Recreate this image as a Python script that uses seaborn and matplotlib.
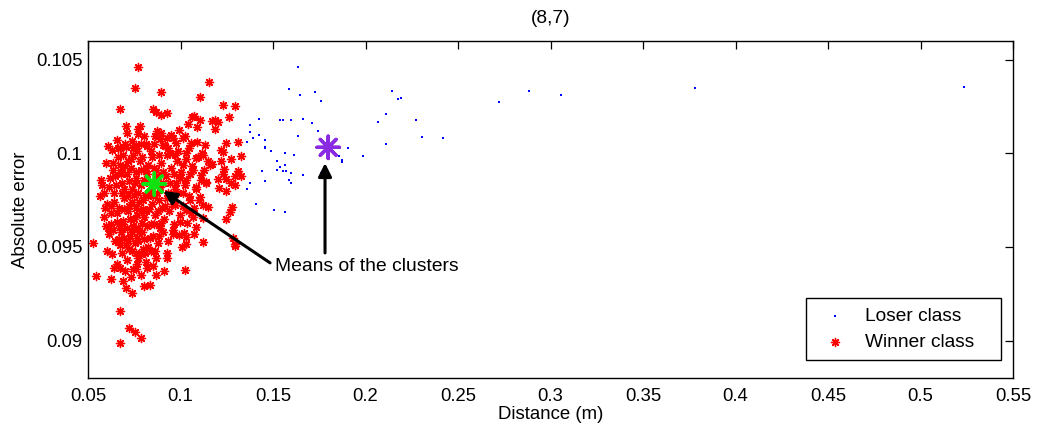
import matplotlib
matplotlib.use("Agg")
import matplotlib.pyplot as plt
import seaborn as sns
import pandas as pd

# ---------------- data ----------------
title = "(8,7)"
x_label = "Distance (m)"
y_label = "Absolute error"
x_ticks = [0.05, 0.1, 0.15, 0.2, 0.25, 0.3, 0.35, 0.4, 0.45, 0.5, 0.55]
x_tick_labels = ["0.05", "0.1", "0.15", "0.2", "0.25", "0.3", "0.35", "0.4", "0.45", "0.5", "0.55"]
y_ticks = [0.09, 0.095, 0.1, 0.105]
y_tick_labels = ["0.09", "0.095", "0.1", "0.105"]
x_limits = (0.05, 0.55)
y_limits = (0.0880, 0.1060)

class_names = ["Loser class", "Winner class"]

loser_points = [
    (0.1634, 0.10459), (0.1585, 0.10345), (0.1648, 0.10313), (0.1729, 0.10326),
    (0.1760, 0.10279), (0.1425, 0.10181), (0.1537, 0.10179), (0.1553, 0.10179),
    (0.1599, 0.10176), (0.1664, 0.10181), (0.1713, 0.10160), (0.1745, 0.10121),
    (0.1376, 0.10149), (0.1376, 0.10112), (0.1425, 0.10096), (0.1393, 0.10082),
    (0.1360, 0.10059), (0.1456, 0.10069), (0.1634, 0.10094), (0.1456, 0.10034),
    (0.1456, 0.10027), (0.1488, 0.10011), (0.1567, 0.10002), (0.1616, 0.09993),
    (0.1760, 0.10027), (0.1906, 0.10028), (0.1857, 0.09984), (0.1873, 0.09964),
    (0.1873, 0.09952), (0.1521, 0.09959), (0.1567, 0.09939), (0.1537, 0.09928),
    (0.1521, 0.09911), (0.1553, 0.09907), (0.1569, 0.09907), (0.1441, 0.09907),
    (0.1599, 0.09893), (0.1664, 0.09884), (0.1760, 0.09893), (0.1585, 0.09859),
    (0.1599, 0.09840), (0.1456, 0.09854), (0.1376, 0.09840), (0.1360, 0.09811),
    (0.1409, 0.09729), (0.1504, 0.09699), (0.1567, 0.09685), (0.2145, 0.10331),
    (0.2177, 0.10288), (0.2193, 0.10297), (0.2112, 0.10211), (0.2066, 0.10165),
    (0.2274, 0.10176), (0.2307, 0.10085), (0.2419, 0.10082), (0.2112, 0.10050),
    (0.1985, 0.09986), (0.2723, 0.10274), (0.2883, 0.10332), (0.3057, 0.10309),
    (0.3779, 0.10350), (0.5236, 0.10352),
]

winner_points = [
    # sparse upper part
    (0.0768, 0.10459), (0.0752, 0.10350), (0.0897, 0.10329), (0.1153, 0.10382),
    (0.1105, 0.10302), (0.1231, 0.10259), (0.1295, 0.10252), (0.0671, 0.10238),
    (0.0849, 0.10235), (0.0865, 0.10219), (0.0897, 0.10206), (0.0927, 0.10217),
    (0.1263, 0.10194), (0.1063, 0.10194), (0.1072, 0.10197), (0.1103, 0.10176),
    (0.1040, 0.10156), (0.1170, 0.10172), (0.1189, 0.10176), (0.1204, 0.10169),
    (0.1089, 0.10140), (0.1184, 0.10128), (0.0703, 0.10144), (0.0782, 0.10146),
    (0.0768, 0.10130), (0.0768, 0.10101), (0.0993, 0.10123), (0.1024, 0.10091),
    (0.0896, 0.10107), (0.0863, 0.10092), (0.0887, 0.10076), (0.0927, 0.10080),
    (0.0959, 0.10080), (0.1058, 0.10057), (0.1313, 0.10062), (0.1248, 0.10053),
    (0.1132, 0.10044), (0.0608, 0.10041), (0.0671, 0.10028), (0.0703, 0.10035),
    (0.0735, 0.10066), (0.0761, 0.10044), (0.0788, 0.10048), (0.0815, 0.10051),
    (0.0905, 0.10044), (0.0932, 0.10027), (0.0973, 0.10053), (0.1220, 0.10018),
    (0.1232, 0.10009),
    # right flank and left edge
    (0.0576, 0.09832), (0.0671, 0.09938), (0.0676, 0.09888), (0.1328, 0.09986),
    (0.1272, 0.09970), (0.1220, 0.09961), (0.1160, 0.09938), (0.1171, 0.09943),
    (0.1312, 0.09906), (0.1295, 0.09879), (0.1326, 0.09879), (0.1236, 0.09915),
    (0.1232, 0.09890), (0.1247, 0.09861), (0.1202, 0.09861), (0.1207, 0.09813),
    (0.1247, 0.09797), (0.1279, 0.09715), (0.1268, 0.09688), (0.1248, 0.09651),
    (0.1295, 0.09832), (0.1275, 0.09840), (0.1150, 0.09715), (0.1121, 0.09724),
    (0.0592, 0.09707), (0.0624, 0.09719), (0.0610, 0.09600), (0.0657, 0.09635),
    (0.0665, 0.09544), (0.0671, 0.09509), (0.0527, 0.09521), (0.0991, 0.09562),
    (0.1018, 0.09573), (0.1072, 0.09568), (0.1121, 0.09528), (0.1283, 0.09546),
    (0.1295, 0.09514),
    # lower tail
    (0.0545, 0.09347), (0.0624, 0.09328), (0.0640, 0.09386), (0.0671, 0.09386),
    (0.0687, 0.09319), (0.0705, 0.09280), (0.0735, 0.09253), (0.0800, 0.09290),
    (0.0833, 0.09299), (0.0865, 0.09352), (0.0910, 0.09370), (0.1024, 0.09377),
    (0.0928, 0.09466), (0.0928, 0.09443), (0.1009, 0.09498), (0.1031, 0.09516),
    (0.0671, 0.09160), (0.0719, 0.09066), (0.0754, 0.09048), (0.0784, 0.09016),
    (0.0671, 0.08989), (0.1297, 0.09505),
    # medium-density right part of the cloud
    (0.0968, 0.09991), (0.1031, 0.10000), (0.1085, 0.09973), (0.1121, 0.09991),
    (0.1013, 0.09938), (0.1067, 0.09911), (0.1112, 0.09884), (0.1031, 0.09858),
    (0.0977, 0.09840), (0.1085, 0.09822), (0.1139, 0.09848), (0.1013, 0.09787),
    (0.1049, 0.09751), (0.1103, 0.09768), (0.0968, 0.09724), (0.1031, 0.09697),
    (0.1067, 0.09662), (0.0995, 0.09635), (0.1121, 0.09653), (0.0959, 0.09591),
    (0.1031, 0.09555), (0.1085, 0.09608),
    # dense core
    (0.0655, 0.1007), (0.0712, 0.1011), (0.0745, 0.1003), (0.0801, 0.1009),
    (0.0838, 0.1001), (0.0873, 0.1012), (0.0915, 0.1004), (0.0948, 0.1010),
    (0.0987, 0.1001), (0.1012, 0.1008), (0.1046, 0.1003), (0.1088, 0.1006),
    (0.1117, 0.1000), (0.0627, 0.1002), (0.0689, 0.0999),
    (0.0598, 0.0995), (0.0633, 0.0991), (0.0664, 0.0998), (0.0702, 0.0993),
    (0.0731, 0.0997), (0.0758, 0.0990), (0.0779, 0.0996), (0.0812, 0.0992),
    (0.0845, 0.0998), (0.0869, 0.0991), (0.0897, 0.0995), (0.0928, 0.0999),
    (0.0951, 0.0992), (0.0979, 0.0996), (0.1003, 0.0990), (0.1031, 0.0997),
    (0.1064, 0.0993), (0.1097, 0.0998), (0.1126, 0.0991), (0.1150, 0.0996),
    (0.0743, 0.0999), (0.0826, 0.0994),
    (0.0571, 0.0986), (0.0612, 0.0982), (0.0647, 0.0988), (0.0681, 0.0984),
    (0.0709, 0.0989), (0.0736, 0.0981), (0.0761, 0.0987), (0.0789, 0.0983),
    (0.0817, 0.0989), (0.0841, 0.0980), (0.0866, 0.0986), (0.0889, 0.0982),
    (0.0919, 0.0988), (0.0943, 0.0984), (0.0971, 0.0981), (0.0996, 0.0987),
    (0.1025, 0.0983), (0.1053, 0.0989), (0.1082, 0.0981), (0.1109, 0.0986),
    (0.1138, 0.0984), (0.0724, 0.0985), (0.0803, 0.0986), (0.0877, 0.0988),
    (0.0566, 0.0977), (0.0604, 0.0973), (0.0638, 0.0979), (0.0669, 0.0971),
    (0.0697, 0.0976), (0.0721, 0.0972), (0.0748, 0.0978), (0.0774, 0.0974),
    (0.0796, 0.0970), (0.0822, 0.0977), (0.0848, 0.0973), (0.0871, 0.0979),
    (0.0899, 0.0971), (0.0926, 0.0976), (0.0957, 0.0973), (0.0985, 0.0979),
    (0.1016, 0.0972), (0.1044, 0.0977), (0.1071, 0.0971), (0.1102, 0.0975),
    (0.0683, 0.0979), (0.0759, 0.0971), (0.0834, 0.0979),
    (0.0589, 0.0966), (0.0626, 0.0962), (0.0655, 0.0968), (0.0688, 0.0964),
    (0.0714, 0.0969), (0.0741, 0.0961), (0.0766, 0.0967), (0.0791, 0.0963),
    (0.0815, 0.0969), (0.0839, 0.0962), (0.0862, 0.0967), (0.0888, 0.0960),
    (0.0913, 0.0965), (0.0938, 0.0969), (0.0966, 0.0962), (0.0998, 0.0967),
    (0.1033, 0.0963), (0.1059, 0.0968), (0.0729, 0.0965), (0.0805, 0.0966),
    (0.0616, 0.0957), (0.0648, 0.0953), (0.0677, 0.0958), (0.0703, 0.0951),
    (0.0727, 0.0956), (0.0752, 0.0952), (0.0778, 0.0958), (0.0801, 0.0954),
    (0.0826, 0.0950), (0.0852, 0.0956), (0.0878, 0.0952), (0.0903, 0.0958),
    (0.0934, 0.0953), (0.0961, 0.0957), (0.0693, 0.0955), (0.0764, 0.0955),
    (0.0684, 0.0947), (0.0712, 0.0943), (0.0738, 0.0948), (0.0763, 0.0941),
    (0.0787, 0.0946), (0.0813, 0.0942), (0.0841, 0.0948), (0.0869, 0.0944),
    (0.0722, 0.0949), (0.0796, 0.0949),
    (0.0701, 0.0937), (0.0732, 0.0934), (0.0758, 0.0938), (0.0784, 0.0935),
    (0.0617, 0.0987), (0.0652, 0.0983), (0.0676, 0.0990), (0.0694, 0.0981),
    (0.0717, 0.0978), (0.0733, 0.0992), (0.0752, 0.0984), (0.0770, 0.0979),
    (0.0785, 0.0991), (0.0808, 0.0978), (0.0829, 0.0984), (0.0853, 0.0977),
    (0.0858, 0.0992), (0.0881, 0.0975), (0.0906, 0.0984), (0.0933, 0.0979),
    (0.0622, 0.0968), (0.0641, 0.0974), (0.0672, 0.0961), (0.0695, 0.0970),
    (0.0708, 0.0960), (0.0735, 0.0974), (0.0747, 0.0965), (0.0771, 0.0960),
    (0.0784, 0.0969), (0.0799, 0.0975), (0.0818, 0.0961), (0.0831, 0.0970),
    (0.0857, 0.0962), (0.0876, 0.0969), (0.0894, 0.0963), (0.0918, 0.0972),
    (0.0636, 0.0959), (0.0662, 0.0953), (0.0681, 0.0962), (0.0715, 0.0953),
    (0.0739, 0.0958), (0.0757, 0.0947), (0.0772, 0.0953), (0.0793, 0.0958),
    (0.0809, 0.0947), (0.0833, 0.0955), (0.0861, 0.0948), (0.0884, 0.0956),
    (0.0637, 0.0995), (0.0661, 0.1003), (0.0698, 0.1005), (0.0718, 0.0996),
    (0.0766, 0.1001), (0.0792, 0.0998), (0.0819, 0.1004), (0.0856, 0.1005),
    (0.0883, 0.0999), (0.0907, 0.0990), (0.0942, 0.1000), (0.0963, 0.0989),
    (0.0588, 0.0979), (0.0595, 0.0961), (0.0603, 0.0948), (0.0628, 0.0946),
    (0.0657, 0.0941), (0.0745, 0.0938), (0.0772, 0.0944), (0.0821, 0.0939),
    (0.0851, 0.0940),
]

winner_mean = (0.0858, 0.09836)
loser_mean = (0.1798, 0.10032)

annotation_text = "Means of the clusters"
annotation_pos = (0.1512, 0.09394)
arrow_to_winner = ((0.1484, 0.09415), (0.0907, 0.09799))   # (tail, head)
arrow_to_loser = ((0.1781, 0.09468), (0.1781, 0.09948))

# ---------------- frames ----------------
loser_df = pd.DataFrame(loser_points, columns=["distance", "error"])
winner_df = pd.DataFrame(winner_points, columns=["distance", "error"])
means_df = pd.DataFrame({
    "distance": [winner_mean[0], loser_mean[0]],
    "error": [winner_mean[1], loser_mean[1]],
    "which": ["winner", "loser"],
})

# ---------------- style ----------------
sns.set_theme(style="white")
plt.rcParams["font.family"] = ["Liberation Sans", "DejaVu Sans"]
plt.rcParams["axes.edgecolor"] = "black"
plt.rcParams["axes.linewidth"] = 1.0
plt.rcParams["text.color"] = "black"
plt.rcParams["axes.labelcolor"] = "black"
plt.rcParams["xtick.color"] = "black"
plt.rcParams["ytick.color"] = "black"

fig, ax = plt.subplots(figsize=(10.38, 4.30), dpi=100)
fig.subplots_adjust(left=0.0848, right=0.976, top=0.9047, bottom=0.1209)

star = (8, 2, 0)

sns.scatterplot(data=loser_df, x="distance", y="error", marker="s", s=4.5,
                color="#0000ff", linewidth=0, label=class_names[0], ax=ax, zorder=3)
sns.scatterplot(data=winner_df, x="distance", y="error", marker=star, s=34,
                color="#ff0000", linewidth=1.0, label=class_names[1], ax=ax, zorder=2)
sns.scatterplot(data=means_df, x="distance", y="error", hue="which",
                palette={"winner": "#11e011", "loser": "#8a2be2"},
                marker=star, s=260, linewidth=2.4, legend=False, ax=ax, zorder=4)

for (tail, head) in (arrow_to_winner, arrow_to_loser):
    ax.annotate("", xy=head, xytext=tail,
                arrowprops=dict(arrowstyle="-|>", color="black", lw=2.2,
                                mutation_scale=20, shrinkA=0, shrinkB=0),
                zorder=5)
ax.text(annotation_pos[0], annotation_pos[1], annotation_text, ha="left", va="center",
        fontsize=13.9, color="black", zorder=6)

ax.set_xlim(*x_limits)
ax.set_ylim(*y_limits)
ax.set_xticks(x_ticks, x_tick_labels)
ax.set_yticks(y_ticks, y_tick_labels)
ax.tick_params(axis="both", which="both", direction="in", length=6, width=0.9,
               top=True, right=True, labelsize=13.3, colors="black")
ax.tick_params(axis="x", pad=7)
ax.tick_params(axis="y", pad=4)
ax.set_xlabel(x_label, fontsize=13.4, labelpad=1)
ax.set_ylabel(y_label, fontsize=13.4, labelpad=5)
ax.set_title(title, fontsize=13.8, pad=13)
for sp in ax.spines.values():
    sp.set_color("black")
    sp.set_linewidth(1.0)

leg = ax.legend(loc="lower left", bbox_to_anchor=(0.776, 0.053, 0.211, 0.1),
                mode="expand", borderaxespad=0,
                frameon=True, fancybox=False, edgecolor="black", framealpha=1,
                fontsize=13.8, handletextpad=0.6, borderpad=0.5, labelspacing=0.4,
                markerscale=1.0)
leg.get_frame().set_linewidth(1.0)

fig.savefig("out.png", dpi=100)
